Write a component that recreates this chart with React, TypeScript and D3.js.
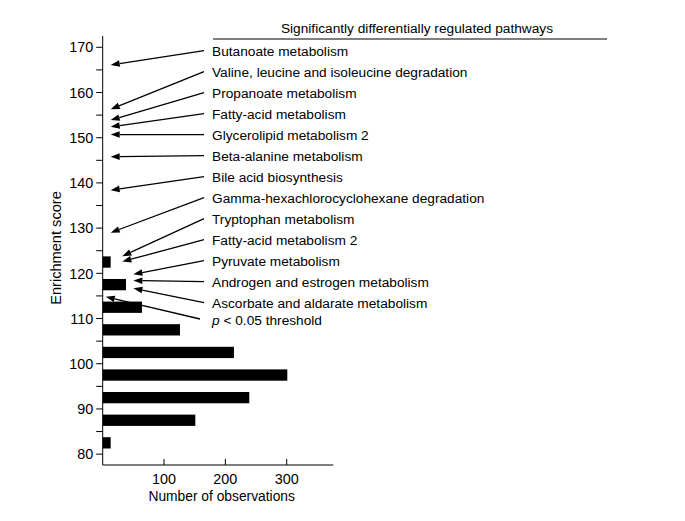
import React from "react";
import * as d3 from "d3";

// ---- data ----
const binCenters = [82.5, 87.5, 92.5, 97.5, 102.5, 107.5, 112.5, 117.5, 122.5];
const counts = [13, 151, 239, 301, 214, 126, 64, 38, 13];

const pathwayNames = [
  "Butanoate metabolism",
  "Valine, leucine and isoleucine degradation",
  "Propanoate metabolism",
  "Fatty-acid metabolism",
  "Glycerolipid metabolism 2",
  "Beta-alanine metabolism",
  "Bile acid biosynthesis",
  "Gamma-hexachlorocyclohexane degradation",
  "Tryptophan metabolism",
  "Fatty-acid metabolism 2",
  "Pyruvate metabolism",
  "Androgen and estrogen metabolism",
  "Ascorbate and aldarate metabolism",
];
const pathwayScores = [166.1, 156.3, 153.9, 152.4, 150.7, 145.8, 138.4, 129.0, 123.8, 122.6, 119.8, 118.4, 116.7];
const pathwayTipObs = [13, 13, 13, 13, 13, 13, 13, 13, 32, 32, 50, 50, 50];

const thresholdScore = 114.8;
const thresholdTipObs = 5;

const yMajorTicks = [80, 90, 100, 110, 120, 130, 140, 150, 160, 170];
const yMinorTicks = [85, 95, 105, 115, 125, 135, 145, 155, 165];
const xTicks = [100, 200, 300];

const titleText = "Significantly differentially regulated pathways";
const xTitle = "Number of observations";
const yTitle = "Enrichment score";

// ---- layout ----
const W = 685;
const H = 521;
const FONT = "'Liberation Sans', Arial, Helvetica, sans-serif";

const x = d3.scaleLinear().domain([0, 376]).range([102.7, 333.3]);
const y = d3.scaleLinear().domain([77.6, 172.5]).range([465, 36]);
const binWidth = 5;

function Arrow({ x1, y1, x2, y2 }: { x1: number; y1: number; x2: number; y2: number }) {
  const ang = Math.atan2(y2 - y1, x2 - x1);
  const L = 9;
  const hw = 3.3;
  const bx = x2 - L * Math.cos(ang);
  const by = y2 - L * Math.sin(ang);
  const px = -Math.sin(ang) * hw;
  const py = Math.cos(ang) * hw;
  const pts = `${x2},${y2} ${bx + px},${by + py} ${bx - px},${by - py}`;
  return (
    <g>
      <line x1={x1} y1={y1} x2={bx} y2={by} stroke="#000" strokeWidth={1.3} />
      <polygon points={pts} fill="#000" />
    </g>
  );
}

export default function App() {
  const bandPx = y(0) - y(binWidth);
  const barH = bandPx * 0.5;
  const labelX = 212;
  const tailX = 204;
  const labelBase = (i: number) => 55.7 + 21 * i;
  const LF = 13.7;

  return (
    <div style={{ position: "absolute", left: 0, top: 0 }}>
      <svg width={W} height={H} style={{ display: "block", background: "#fff" }} fontFamily={FONT}>
        <rect width={W} height={H} fill="#fff" />
        {/* bars */}
        {binCenters.map((c, i) => (
          <rect
            key={"b" + i}
            x={x(0)}
            y={y(c) - barH / 2}
            width={x(counts[i]) - x(0)}
            height={barH}
            fill="#000"
          />
        ))}
        {/* y axis */}
        <line x1={x(0)} x2={x(0)} y1={y.range()[1]} y2={y.range()[0]} stroke="#000" strokeWidth={1} />
        {yMajorTicks.map((t) => (
          <g key={"ym" + t}>
            <line x1={x(0) - 6.5} x2={x(0)} y1={y(t)} y2={y(t)} stroke="#000" strokeWidth={1} />
            <text x={x(0) - 9.5} y={y(t)} dy="0.36em" textAnchor="end" fontSize={14.4} fill="#000">
              {t}
            </text>
          </g>
        ))}
        {yMinorTicks.map((t) => (
          <line key={"yn" + t} x1={x(0) - 6.5} x2={x(0)} y1={y(t)} y2={y(t)} stroke="#000" strokeWidth={1} />
        ))}
        {/* x axis */}
        <line x1={x(0)} x2={x.range()[1]} y1={y(77.6)} y2={y(77.6)} stroke="#000" strokeWidth={1} />
        {xTicks.map((t) => (
          <g key={"x" + t}>
            <line x1={x(t)} x2={x(t)} y1={y(77.6)} y2={y(77.6) - 6} stroke="#000" strokeWidth={1} />
            <text x={x(t)} y={484} textAnchor="middle" fontSize={14.4} fill="#000">
              {t}
            </text>
          </g>
        ))}
        <text x={221.7} y={500.5} textAnchor="middle" fontSize={13.8} fill="#000">
          {xTitle}
        </text>
        <text
          transform={`translate(61,${248}) rotate(-90)`}
          textAnchor="middle"
          fontSize={14.6}
          fill="#000"
        >
          {yTitle}
        </text>
        {/* title */}
        <text x={417} y={33.3} textAnchor="middle" fontSize={LF} fill="#000">
          {titleText}
        </text>
        <line x1={213} x2={607} y1={39} y2={39} stroke="#000" strokeWidth={1.2} />
        {/* pathway annotations */}
        {pathwayNames.map((name, i) => (
          <g key={"p" + i}>
            <Arrow x1={tailX} y1={labelBase(i) - 5} x2={x(pathwayTipObs[i])} y2={y(pathwayScores[i])} />
            <text x={labelX} y={labelBase(i)} fontSize={LF} fill="#000">
              {name}
            </text>
          </g>
        ))}
        {/* threshold */}
        <Arrow x1={200} y1={319} x2={x(thresholdTipObs)} y2={y(thresholdScore)} />
        <text x={labelX} y={325} fontSize={LF} fill="#000">
          <tspan fontStyle="italic">p</tspan>
          {" < 0.05 threshold"}
        </text>
      </svg>
    </div>
  );
}
